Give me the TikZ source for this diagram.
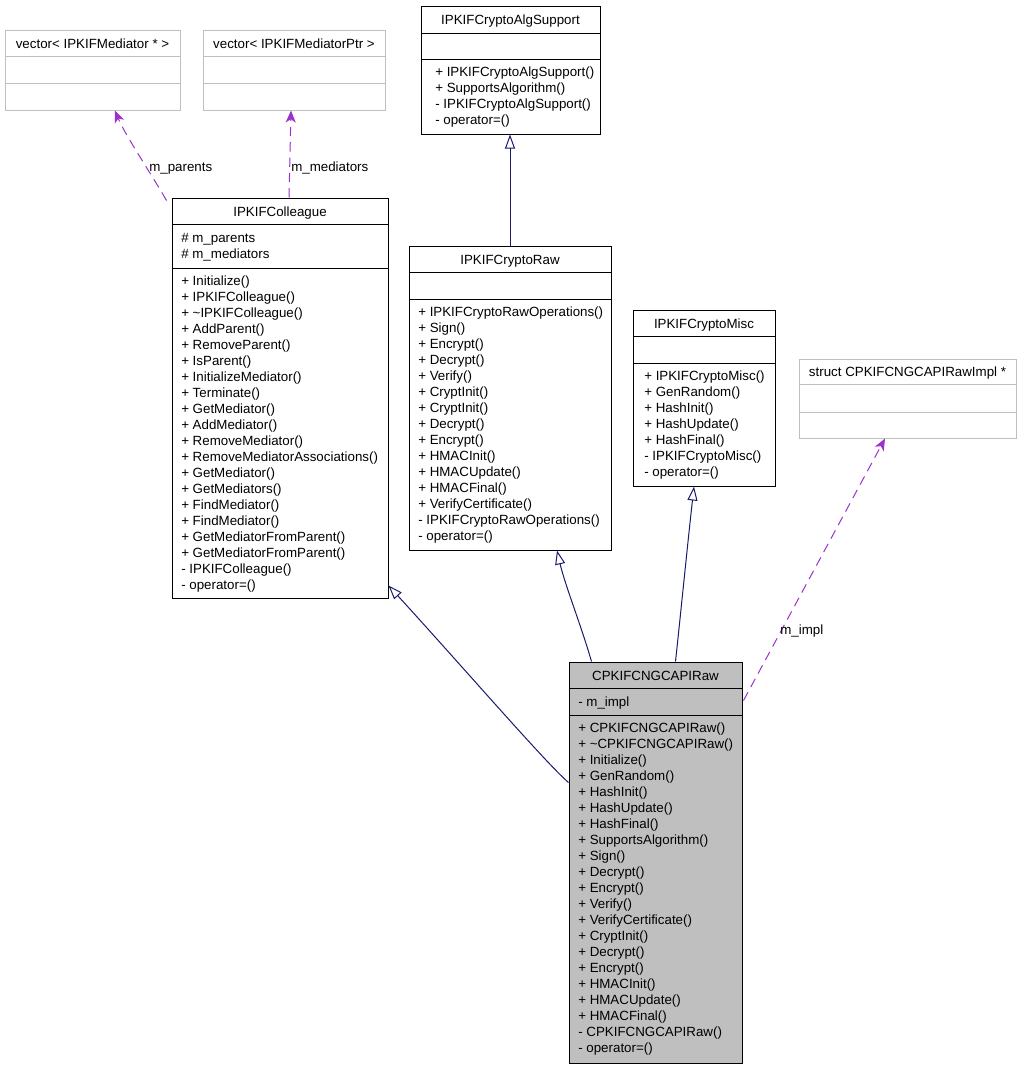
\documentclass[tikz,border=0pt]{standalone}
\usepackage{fontspec}
\setmainfont{Liberation Sans}
\usetikzlibrary{fit,calc,arrows.meta}
\definecolor{navyline}{HTML}{191970}
\definecolor{assoccol}{HTML}{9A32CD}
\definecolor{boxgray}{HTML}{BFBFBF}
\begin{document}
\begin{tikzpicture}[x=0.75pt,y=-0.75pt,
  font=\fontsize{10pt}{12pt}\selectfont,
  cls/.style={draw=black, line width=0.75pt, inner sep=0pt},
  gcls/.style={draw=boxgray, line width=0.75pt, inner sep=0pt},
  sepline/.style={black, line width=0.75pt},
  gsepline/.style={boxgray, line width=0.75pt},
  txt/.style={anchor=base west, inner sep=0pt},
  ttl/.style={anchor=base, inner sep=0pt},
  inh/.style={navyline, line width=0.75pt, -{Triangle[open,length=10.5pt,width=7.5pt]}},
  assoc/.style={assoccol, line width=0.75pt, dash pattern=on 7pt off 4.5pt, -{Stealth[length=9pt,width=7.5pt,inset=2.5pt]}},
  lbl/.style={anchor=base west, inner sep=0pt}]
\useasboundingbox (0,0) rectangle (1020,1067);

% vector< IPKIFMediator * >
\node[gcls, fit={(5,30)(180,110)}] (vmed) {};
\draw[gsepline] (5,56) -- (180,56);
\draw[gsepline] (5,83) -- (180,83);
\node[ttl] (vmedt) at (92.5,48) {vector< IPKIFMediator * >};

% vector< IPKIFMediatorPtr >
\node[gcls, fit={(203,30)(385,110)}] (vmedptr) {};
\draw[gsepline] (203,56) -- (385,56);
\draw[gsepline] (203,83) -- (385,83);
\node[ttl] (vmedptrt) at (294,48) {vector< IPKIFMediatorPtr >};

% IPKIFCryptoAlgSupport
\node[cls, fit={(421,6)(600,134)}] (algsup) {};
\draw[sepline] (421,33) -- (600,33);
\draw[sepline] (421,59) -- (600,59);
\node[ttl] (algsupt) at (510.5,24.5) {IPKIFCryptoAlgSupport};
\foreach [count=\i from 0] \t in {{+ IPKIFCryptoAlgSupport()},{+ SupportsAlgorithm()},{- IPKIFCryptoAlgSupport()},{- operator=()}}
  \node[txt] (algsupm\i) at (435,76+16*\i) {\t};

% IPKIFColleague
\node[cls, fit={(172,198)(388,598)}] (colleague) {};
\draw[sepline] (172,224) -- (388,224);
\draw[sepline] (172,268) -- (388,268);
\node[ttl] (colleaguet) at (280,216) {IPKIFColleague};
\foreach [count=\i from 0] \t in {{\# m\_parents},{\# m\_mediators}}
  \node[txt] (colleaguea\i) at (181,242+16*\i) {\t};
\foreach [count=\i from 0] \t in {{+ Initialize()},{+ IPKIFColleague()},{+ \textasciitilde IPKIFColleague()},{+ AddParent()},{+ RemoveParent()},{+ IsParent()},{+ InitializeMediator()},{+ Terminate()},{+ GetMediator()},{+ AddMediator()},{+ RemoveMediator()},{+ RemoveMediatorAssociations()},{+ GetMediator()},{+ GetMediators()},{+ FindMediator()},{+ FindMediator()},{+ GetMediatorFromParent()},{+ GetMediatorFromParent()},{- IPKIFColleague()},{- operator=()}}
  \node[txt] (colleaguem\i) at (181,285+16*\i) {\t};

% IPKIFCryptoRaw
\node[cls, fit={(409,246)(611,550)}] (cryptoraw) {};
\draw[sepline] (409,272) -- (611,272);
\draw[sepline] (409,299) -- (611,299);
\node[ttl] (cryptorawt) at (510,264) {IPKIFCryptoRaw};
\foreach [count=\i from 0] \t in {{+ IPKIFCryptoRawOperations()},{+ Sign()},{+ Encrypt()},{+ Decrypt()},{+ Verify()},{+ CryptInit()},{+ CryptInit()},{+ Decrypt()},{+ Encrypt()},{+ HMACInit()},{+ HMACUpdate()},{+ HMACFinal()},{+ VerifyCertificate()},{- IPKIFCryptoRawOperations()},{- operator=()}}
  \node[txt] (cryptorawm\i) at (418,316+16*\i) {\t};

% IPKIFCryptoMisc
\node[cls, fit={(633,310)(775,486)}] (cryptomisc) {};
\draw[sepline] (633,336) -- (775,336);
\draw[sepline] (633,363) -- (775,363);
\node[ttl] (cryptomisct) at (704,328) {IPKIFCryptoMisc};
\foreach [count=\i from 0] \t in {{+ IPKIFCryptoMisc()},{+ GenRandom()},{+ HashInit()},{+ HashUpdate()},{+ HashFinal()},{- IPKIFCryptoMisc()},{- operator=()}}
  \node[txt] (cryptomiscm\i) at (644,380+16*\i) {\t};

% struct CPKIFCNGCAPIRawImpl *
\node[gcls, fit={(799,359)(1016,438)}] (implstruct) {};
\draw[gsepline] (799,384) -- (1016,384);
\draw[gsepline] (799,412) -- (1016,412);
\node[ttl] (implstructt) at (907.5,376.5) {struct CPKIFCNGCAPIRawImpl *};

% CPKIFCNGCAPIRaw
\node[cls, fill=boxgray, fit={(569,662)(742,1063)}] (cng) {};
\draw[sepline] (569,688) -- (742,688);
\draw[sepline] (569,715) -- (742,715);
\node[ttl] (cngt) at (655.5,680) {CPKIFCNGCAPIRaw};
\node[txt] (cnga0) at (578,706) {- m\_impl};
\foreach [count=\i from 0] \t in {{+ CPKIFCNGCAPIRaw()},{+ \textasciitilde CPKIFCNGCAPIRaw()},{+ Initialize()},{+ GenRandom()},{+ HashInit()},{+ HashUpdate()},{+ HashFinal()},{+ SupportsAlgorithm()},{+ Sign()},{+ Decrypt()},{+ Encrypt()},{+ Verify()},{+ VerifyCertificate()},{+ CryptInit()},{+ Decrypt()},{+ Encrypt()},{+ HMACInit()},{+ HMACUpdate()},{+ HMACFinal()},{- CPKIFCNGCAPIRaw()},{- operator=()}}
  \node[txt] (cngm\i) at (578,732+16*\i) {\t};

% connectors
\draw[assoc] ($(colleague.north west)+(-5,3)$) .. controls (152,175) and (125,135) .. ($(vmed.south)+(22.5,0)$);
\node[lbl] (lparents) at (149,171) {m\_parents};

\draw[assoc] ($(colleague.north)+(9,0)$) -- ($(vmedptr.south)+(-3,0)$);
\node[lbl] (lmediators) at (291,171) {m\_mediators};

\draw[inh] (cryptoraw.north) -- (cryptoraw.north |- algsup.south);

\draw[inh] ($(cng.north west)+(0,121)$) .. controls (545,762) and (470,675) .. ($(colleague.south east)+(0,-13)$);

\draw[inh] ($(cng.north west)+(23,0)$) .. controls (582,628) and (565,585) .. ($(cryptoraw.south)+(47,0)$);

\draw[inh] ($(cng.north west)+(107,0)$) .. controls (680,620) and (688,540) .. ($(cryptomisc.south)+(-10,0)$);

\draw[assoc] ($(cng.north east)+(1,39)$) -- ($(implstruct.south)+(-22.5,0)$);
\node[lbl] (limpl) at (780,634) {m\_impl};
\end{tikzpicture}
\end{document}
